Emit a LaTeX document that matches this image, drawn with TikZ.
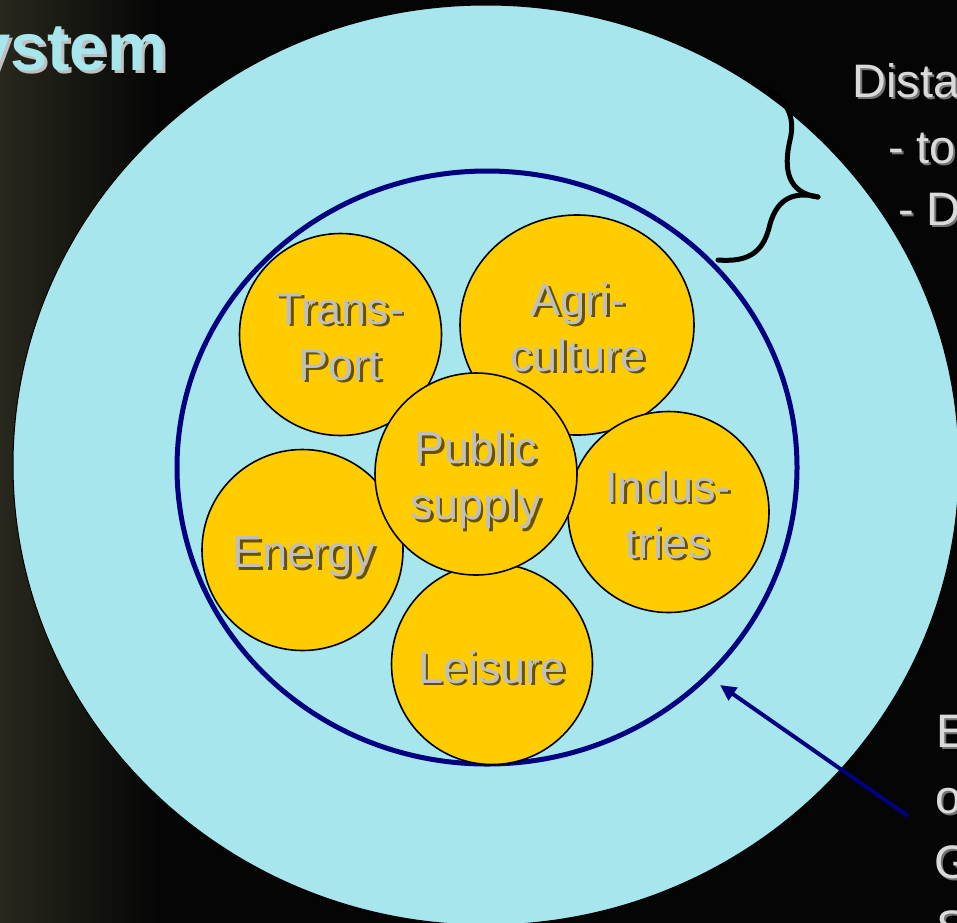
\documentclass[tikz,border=0pt]{standalone}
\usepackage{fontspec}
\setmainfont{Liberation Sans}
\usetikzlibrary{shapes.geometric,arrows.meta}
\definecolor{bgcyan}{HTML}{A8E6ED}
\definecolor{ylw}{HTML}{FFCC00}
\definecolor{navyb}{HTML}{000080}
\definecolor{lblgrey}{HTML}{BFBFBF}
\definecolor{txtgrey}{HTML}{DADADA}
\definecolor{olivebg}{HTML}{28281E}
\definecolor{titlecyan}{HTML}{A8E6EE}
\definecolor{bgblack}{HTML}{050505}
\newcommand\dlabel[4]{%
  \node[lblsh] at (#2+2.5,#3+2.5) {#4};
  \node[lbl] (#1) at (#2,#3) {#4};}
\newcommand\slabel[4]{%
  \node[sidesh] at (#2+2,#3+2) {#4};
  \node[side] (#1) at (#2,#3) {#4};}
\begin{document}
\begin{tikzpicture}[x=1pt,y=-1pt,
  yc/.style={circle, draw=black, line width=1.6pt, fill=ylw, inner sep=0pt, minimum size=201pt},
  lbl/.style={text=lblgrey, align=center, font=\fontsize{45}{56}\selectfont, inner sep=0pt},
  lblsh/.style={lbl, text=black, text opacity=0.6},
  side/.style={text=txtgrey, font=\fontsize{47}{56}\selectfont, inner sep=0pt, anchor=base west},
  sidesh/.style={side, text=black!55},
  ttl/.style={anchor=base east, font=\fontsize{67}{67}\selectfont\bfseries, inner sep=0pt},
  bracestyle/.style={draw=black, line width=5pt, line cap=round, line join=round},
  pointer/.style={draw=navyb, line width=4pt, -{Triangle[length=16pt,width=15pt]}},
]
\useasboundingbox (0,0) rectangle (957,922);
\clip (0,0) rectangle (957,922);
\fill[bgblack] (-10,-10) rectangle (967,932);
\shade[left color=olivebg, right color=bgblack] (-2,-20) rectangle (160,942);

% title
\node[ttl, text=black!25] at (170,73) {ystem};
\node[ttl, text=titlecyan] (title) at (167,70) {ystem};

% outer and inner ellipses
\node[ellipse, draw=black, line width=1pt, fill=bgcyan, minimum width=946pt, minimum height=920pt, inner sep=0pt] (outer) at (486,465) {};
\node[ellipse, draw=navyb, line width=5pt, minimum width=620pt, minimum height=593pt, inner sep=0pt] (inner) at (487,467.5) {};

% sectors
\node[yc, minimum size=202pt] (tp) at (340.5,334.5) {};
\dlabel{tpt}{340}{337}{Trans-\\Port}
\node[ellipse, draw=black, line width=1.6pt, fill=ylw, inner sep=0pt, minimum width=234pt, minimum height=220pt] (ag) at (577,325) {};
\dlabel{agt}{578}{327}{Agri-\\culture}
\node[yc] (en) at (302.5,550) {};
\dlabel{ent}{304}{557}{Energy}
\node[yc] (le) at (492,664) {};
\dlabel{let}{492}{667}{Leisure}
\node[yc] (in) at (668.5,512) {};
\dlabel{int}{668}{514}{Indus-\\tries}
\node[yc, minimum size=202pt] (ps) at (476,474) {};
\dlabel{pst}{476}{480}{Public\\supply}

% brace
\coordinate (b1) at (763,88);
\coordinate (btip) at (818,197);
\coordinate (b2) at (718,260);
\draw[bracestyle] (b1) .. controls (786,98) and (796,116) .. (790,140)
  .. controls (783,170) and (788,193) .. (btip);
\draw[bracestyle] (btip) .. controls (790,190) and (775,202) .. (769,228)
  .. controls (762,255) and (745,262) .. (b2);

% right texts
\slabel{r1}{852}{97}{Dista}
\slabel{r2}{888}{163}{- to}
\slabel{r3}{898}{225}{- D}
\slabel{s1}{936}{747}{E}
\slabel{s2}{935}{813}{o}
\slabel{s3}{934}{878}{G}
\slabel{s4}{936}{943}{S}

% pointer
\coordinate (pS) at (908,816);
\coordinate (pE) at (720,685);
\draw[pointer] (pS) -- (pE);
\end{tikzpicture}
\end{document}
